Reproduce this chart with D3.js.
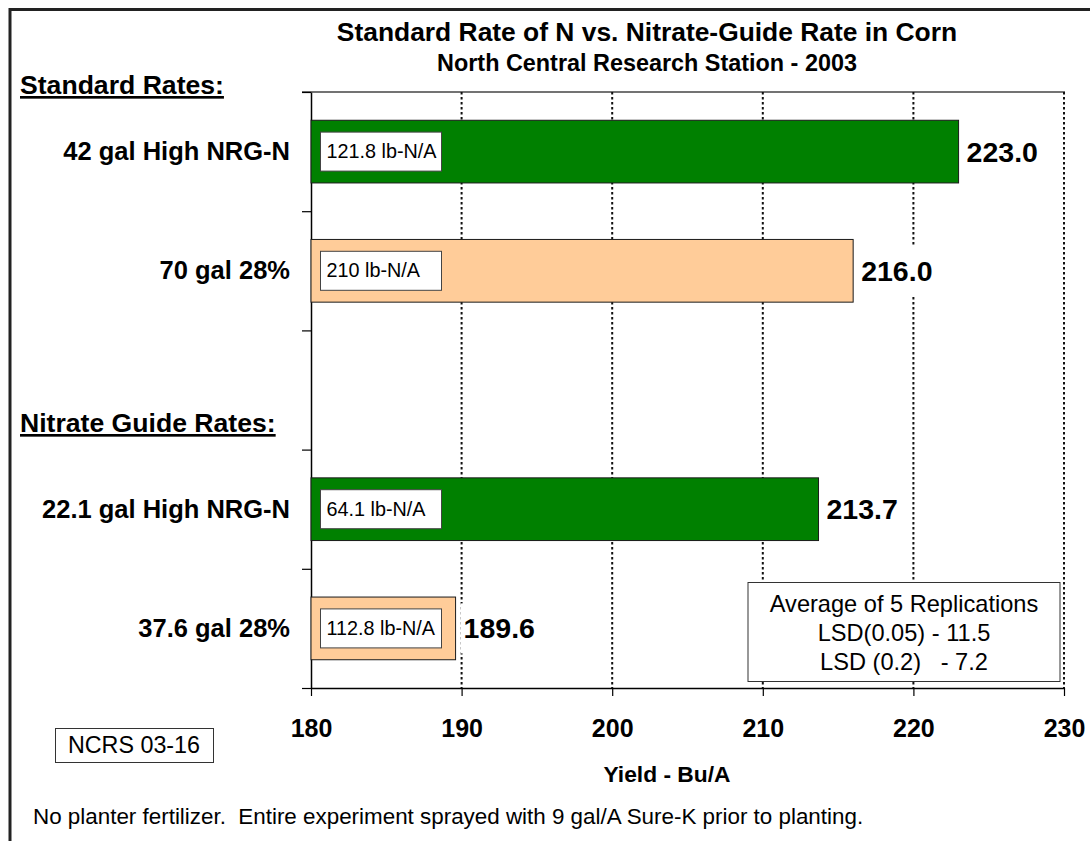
<!DOCTYPE html>
<html>
<head>
<meta charset="utf-8">
<script src="https://cdn.jsdelivr.net/npm/d3@7"></script>
<style>
  body { margin: 0; background: #fff; }
  svg text { font-family: "Liberation Sans", Arial, sans-serif; white-space: pre; }
</style>
</head>
<body>
<svg width="1090" height="841"></svg>
<script>
// Chart data (the empty slot is the gap between the two groups)
const categories = ["42 gal High NRG-N", "70 gal 28%", "gap", "22.1 gal High NRG-N", "37.6 gal 28%"];
const yields = [223.0, 216.0, null, 213.7, 189.6];
const nRates = ["121.8 lb-N/A", "210 lb-N/A", null, "64.1 lb-N/A", "112.8 lb-N/A"];
const products = ["High NRG-N", "28%", null, "High NRG-N", "28%"];
const xTicks = [180, 190, 200, 210, 220, 230];
const lsdLines = ["Average of 5 Replications", "LSD(0.05) - 11.5", "LSD (0.2)   - 7.2"];

const rows = categories.map((c, i) => ({ cat: c, yield: yields[i], rate: nRates[i], product: products[i] }))
  .filter(d => d.yield != null);

const svg = d3.select("svg");

// outer frame (right and bottom run past the picture)
svg.append("rect")
  .attr("x", 10).attr("y", 9.5)
  .attr("width", 1100).attr("height", 860)
  .attr("fill", "none")
  .attr("stroke", "#222")
  .attr("stroke-width", 3);

const plotLeft = 311, plotRight = 1064, plotTop = 92, plotBottom = 688;

const x = d3.scaleLinear().domain([180, 230]).range([plotLeft, plotRight]);
const y = d3.scaleBand().domain(categories).range([plotTop, plotBottom])
  .paddingInner(0.474).paddingOuter(0.237);
const yEdge = d3.scaleLinear().domain([0, categories.length]).range([plotTop, plotBottom]);

const color = d3.scaleOrdinal().domain(["High NRG-N", "28%"]).range(["#008000", "#FFCC99"]);

// titles
svg.append("text")
  .attr("x", 647).attr("y", 41)
  .attr("text-anchor", "middle")
  .style("font-size", "26.4px").style("font-weight", "bold")
  .text("Standard Rate of N vs. Nitrate-Guide Rate in Corn");

svg.append("text")
  .attr("x", 647).attr("y", 71)
  .attr("text-anchor", "middle")
  .style("font-size", "23.4px").style("font-weight", "bold")
  .text("North Central Research Station - 2003");

// plot top border
svg.append("line")
  .attr("x1", plotLeft - 9).attr("x2", plotRight + 1)
  .attr("y1", plotTop).attr("y2", plotTop)
  .attr("stroke", "#444").attr("stroke-width", 1.5);

// dotted gridlines
svg.selectAll(".grid")
  .data(xTicks.slice(1))
  .enter().append("line")
  .attr("class", "grid")
  .attr("x1", d => x(d)).attr("x2", d => x(d))
  .attr("y1", plotTop).attr("y2", plotBottom)
  .attr("stroke", "#111")
  .attr("stroke-width", 2)
  .attr("stroke-dasharray", "2.5,2.5");

// x axis
const xAxis = svg.append("g")
  .attr("transform", `translate(0,${plotBottom})`)
  .call(d3.axisBottom(x).tickValues(xTicks).tickSize(8).tickSizeOuter(0).tickPadding(23));
xAxis.select(".domain").attr("stroke", "#000").attr("stroke-width", 1.5);
xAxis.selectAll(".tick line").attr("stroke", "#000").attr("stroke-width", 1.2);
xAxis.selectAll(".tick text")
  .style("font-family", "'Liberation Sans', Arial, sans-serif")
  .style("font-size", "25px").style("font-weight", "bold").attr("fill", "#000");

// y axis (ticks on band edges)
const yAxis = svg.append("g")
  .attr("transform", `translate(${plotLeft},0)`)
  .call(d3.axisLeft(yEdge).tickValues(d3.range(categories.length + 1)).tickSize(9).tickSizeOuter(0).tickFormat(""));
yAxis.select(".domain").attr("stroke", "#000").attr("stroke-width", 1.5);
yAxis.selectAll(".tick line").attr("stroke", "#000").attr("stroke-width", 1.2);

// bars
svg.selectAll(".bar")
  .data(rows)
  .enter().append("rect")
  .attr("class", "bar")
  .attr("x", x(180))
  .attr("y", d => y(d.cat))
  .attr("width", d => x(d.yield) - x(180))
  .attr("height", y.bandwidth())
  .attr("fill", d => color(d.product))
  .attr("stroke", "#1a1a1a")
  .attr("stroke-width", 1);

// N rate boxes inside the bars
const rateBox = svg.selectAll(".rate")
  .data(rows)
  .enter().append("g")
  .attr("class", "rate")
  .attr("transform", d => `translate(${x(180) + 9.5},${y(d.cat) + y.bandwidth() / 2 - 19.5})`);
rateBox.append("rect")
  .attr("width", 121).attr("height", 39)
  .attr("fill", "#fff").attr("stroke", "#444").attr("stroke-width", 1);
rateBox.append("text")
  .attr("x", 6).attr("y", 26)
  .style("font-size", "19.8px")
  .text(d => d.rate);

// yield values, on white backing like the original labels
const val = svg.selectAll(".val")
  .data(rows)
  .enter().append("g")
  .attr("class", "val")
  .attr("transform", d => `translate(${x(d.yield) + 8},${y(d.cat) + y.bandwidth() / 2})`);
const valBg = val.append("rect").attr("fill", "#fff");
val.append("text")
  .attr("y", 10)
  .style("font-size", "28.5px").style("font-weight", "bold")
  .text(d => d3.format(".1f")(d.yield));
valBg.each(function () {
  const w = this.parentNode.querySelector("text").getComputedTextLength();
  d3.select(this).attr("x", -3).attr("y", -25).attr("width", w + 6).attr("height", 50);
});

// category labels
svg.selectAll(".cat")
  .data(rows)
  .enter().append("text")
  .attr("class", "cat")
  .attr("x", 290)
  .attr("y", d => y(d.cat) + y.bandwidth() / 2 + 8.5)
  .attr("text-anchor", "end")
  .style("font-size", "25.5px").style("font-weight", "bold")
  .text(d => d.cat);

// group headers
svg.append("text")
  .attr("x", 20).attr("y", 94)
  .style("font-size", "26.6px").style("font-weight", "bold")
  .style("text-decoration", "underline")
  .text("Standard Rates:");

svg.append("text")
  .attr("x", 20).attr("y", 432)
  .style("font-size", "26.6px").style("font-weight", "bold")
  .style("text-decoration", "underline")
  .text("Nitrate Guide Rates:");

// LSD box
svg.append("rect")
  .attr("x", 748).attr("y", 582.5)
  .attr("width", 312).attr("height", 99)
  .attr("fill", "#fff").attr("stroke", "#333").attr("stroke-width", 1);
svg.selectAll(".lsd")
  .data(lsdLines)
  .enter().append("text")
  .attr("class", "lsd")
  .attr("x", 904)
  .attr("y", (d, i) => 612 + i * 29)
  .attr("text-anchor", "middle")
  .style("font-size", "23.6px")
  .text(d => d);

// axis title
svg.append("text")
  .attr("x", 667).attr("y", 782)
  .attr("text-anchor", "middle")
  .style("font-size", "22.8px").style("font-weight", "bold")
  .text("Yield - Bu/A");

// NCRS tag
svg.append("rect")
  .attr("x", 55.5).attr("y", 728.5)
  .attr("width", 158).attr("height", 34)
  .attr("fill", "#fff").attr("stroke", "#333").attr("stroke-width", 1);
svg.append("text")
  .attr("x", 134).attr("y", 753)
  .attr("text-anchor", "middle")
  .style("font-size", "23.3px")
  .text("NCRS 03-16");

// footnote
svg.append("text")
  .attr("x", 33).attr("y", 824)
  .style("font-size", "22.4px")
  .text("No planter fertilizer.  Entire experiment sprayed with 9 gal/A Sure-K prior to planting.");
</script>
</body>
</html>
